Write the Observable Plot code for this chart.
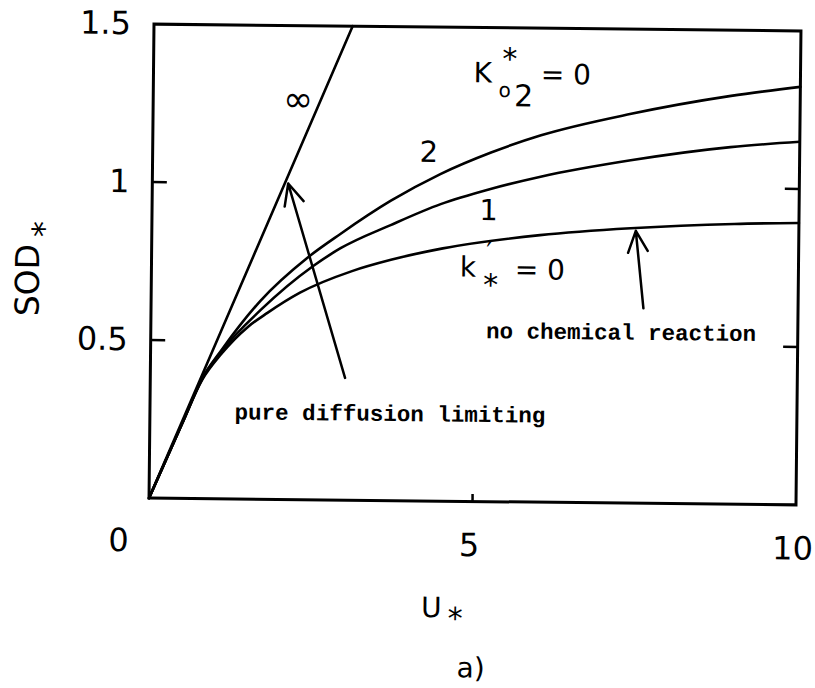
<!DOCTYPE html>
<html>
<head>
<meta charset="utf-8">
<script src="https://cdn.jsdelivr.net/npm/d3@7"></script>
<script src="https://cdn.jsdelivr.net/npm/@observablehq/plot@0.6"></script>
<style>
  body { margin: 0; background: #fff; }
  #chart svg { display: block; }
</style>
</head>
<body>
<div id="chart"></div>
<script>
// Dimensionless sediment oxygen demand SOD* against dimensionless velocity U*
// for several reaction rates k'* (K*o2 = 0), plus the pure-diffusion limit (∞).

// pure diffusion limiting line (k'* = ∞)
const uInf = [0, 3.07];
const sodInf = [0, 1.5];

// k'* = 0 (no chemical reaction)
const u0   = [0, 0.5, 0.8, 1.1, 1.5, 1.8, 2.3, 3.1, 3.7, 4.5, 6.0, 7.4, 9.0, 10];
const sod0 = [0, 0.237, 0.375, 0.46, 0.545, 0.59, 0.655, 0.725, 0.762, 0.80, 0.845, 0.87, 0.887, 0.892];

// k'* = 1
const u1   = [0, 0.5, 0.8, 1.1, 1.7, 2.5, 2.92, 3.69, 4.46, 5.2, 6.0, 7.39, 8.93, 10];
const sod1 = [0, 0.237, 0.378, 0.468, 0.60, 0.74, 0.797, 0.872, 0.94, 0.988, 1.03, 1.085, 1.13, 1.149];

// k'* = 2
const u2   = [0, 0.5, 0.8, 1.1, 1.69, 2.41, 2.92, 3.69, 4.45, 5.23, 6.0, 7.39, 8.93, 10];
const sod2 = [0, 0.237, 0.38, 0.472, 0.628, 0.766, 0.843, 0.949, 1.035, 1.105, 1.161, 1.232, 1.292, 1.323];

const seriesNames = ["0", "1", "2"];

// axis ticks and their labels
const yTickValues = [0.5, 1, 1.5];
const yTickLabels = ["0.5", "1", "1.5"];
const xTickValues = [5, 10];
const xTickLabels = ["5", "10"];
const originLabel = "0";

// curve labels (text, U*, SOD*)
const curveLabelText = ["∞", "2", "1"];
const curveLabelU    = [2.24, 4.27, 5.2];
const curveLabelSod  = [1.265, 1.103, 0.92];

// annotation arrows: tail (u1, sod1) -> head (u2, sod2)
const arrowFromU   = [3.01, 7.61];
const arrowFromSod = [0.387, 0.617];
const arrowToU     = [2.1, 7.48];
const arrowToSod   = [1.0, 0.862];

// annotation texts
const noteText = ["pure diffusion limiting", "no chemical reaction"];
const noteU    = [3.71, 7.27];
const noteSod  = [0.275, 0.54];

// anchors of the composite symbol labels
const kO2Anchor = {u: 5.09, sod: 1.355};
const kAnchor   = {u: 4.89, sod: 0.740};
const yTitleAnchor = {sod: 0.686};
const xTitleAnchor = {u: 4.38};
const panelAnchor  = {u: 5.0};

const curveRows = [[u0, sod0], [u1, sod1], [u2, sod2]].flatMap(([us, ss], s) =>
  us.map((u, i) => ({series: seriesNames[s], u, sod: ss[i]}))
);
const infRows = uInf.map((u, i) => ({u, sod: sodInf[i]}));
const curveLabels = curveLabelText.map((t, i) => ({t, u: curveLabelU[i], sod: curveLabelSod[i]}));
const arrows = arrowFromU.map((u, i) => ({u1: u, s1: arrowFromSod[i], u2: arrowToU[i], s2: arrowToSod[i]}));
const notes = noteText.map((t, i) => ({t, u: noteU[i], sod: noteSod[i]}));

const sans = "DejaVu Sans";
const mono = "Liberation Mono";

const chart = Plot.plot({
  width: 815,
  height: 688,
  marginLeft: 151,
  marginRight: 17,
  marginTop: 27,
  marginBottom: 187,
  x: {domain: [0, 10]},
  y: {domain: [0, 1.5]},
  style: {fontFamily: sans, background: "#fff", color: "#000"},
  marks: [
    // inward ticks
    Plot.axisY([0.5, 1], {anchor: "left", tickSize: -15, strokeWidth: 2.5, fill: "none"}),
    Plot.axisY([0.5, 1], {anchor: "right", tickSize: -15, strokeWidth: 2.5, fill: "none"}),
    Plot.axisX([5], {anchor: "bottom", tickSize: -7, strokeWidth: 2.5, fill: "none"}),
    // tick labels
    Plot.axisY(yTickValues, {
      anchor: "left", tickSize: 0, tickPadding: 23, fontSize: 32,
      tickFormat: d => yTickLabels[yTickValues.indexOf(d)]
    }),
    Plot.axisX(xTickValues, {
      anchor: "bottom", tickSize: 0, tickPadding: 32, fontSize: 32, dx: -3,
      tickFormat: d => xTickLabels[xTickValues.indexOf(d)]
    }),
    Plot.text([originLabel], {x: 0, y: 0, text: d => d, dx: -30, dy: 43, fontSize: 32, lineAnchor: "middle"}),

    Plot.frame({stroke: "#000", strokeWidth: 3}),

    // curves
    Plot.line(infRows, {x: "u", y: "sod", stroke: "#000", strokeWidth: 2.6}),
    Plot.line(curveRows, {x: "u", y: "sod", z: "series", stroke: "#000", strokeWidth: 2.6, curve: "monotone-x"}),

    // curve labels
    Plot.text(curveLabels, {x: "u", y: "sod", text: "t", fontSize: d => d.t === "∞" ? 36 : 29, lineAnchor: "middle"}),

    // K*o2 = 0
    Plot.text(["K"], {x: kO2Anchor.u, y: kO2Anchor.sod, text: d => d, fontSize: 28, lineAnchor: "middle"}),
    Plot.text(["*"], {x: kO2Anchor.u, y: kO2Anchor.sod, text: d => d, fontSize: 30, lineAnchor: "middle", dx: 27, dy: -14}),
    Plot.text(["o"], {x: kO2Anchor.u, y: kO2Anchor.sod, text: d => d, fontSize: 20, lineAnchor: "middle", dx: 22, dy: 17}),
    Plot.text(["2"], {x: kO2Anchor.u, y: kO2Anchor.sod, text: d => d, fontSize: 30, lineAnchor: "middle", dx: 41, dy: 23}),
    Plot.text(["= 0"], {x: kO2Anchor.u, y: kO2Anchor.sod, text: d => d, fontSize: 28, lineAnchor: "middle", textAnchor: "start", dx: 58, dy: 1}),

    // k'* = 0
    Plot.text(["k"], {x: kAnchor.u, y: kAnchor.sod, text: d => d, fontSize: 28, lineAnchor: "middle"}),
    Plot.text(["′"], {x: kAnchor.u, y: kAnchor.sod, text: d => d, fontSize: 24, lineAnchor: "middle", dx: 21, dy: -16}),
    Plot.text(["*"], {x: kAnchor.u, y: kAnchor.sod, text: d => d, fontSize: 30, lineAnchor: "middle", dx: 23, dy: 18}),
    Plot.text(["= 0"], {x: kAnchor.u, y: kAnchor.sod, text: d => d, fontSize: 28, lineAnchor: "middle", textAnchor: "start", dx: 47, dy: 2}),

    // annotations
    Plot.arrow(arrows, {x1: "u1", y1: "s1", x2: "u2", y2: "s2", stroke: "#000", strokeWidth: 2.5, headLength: 14, headAngle: 50}),
    Plot.text(notes, {x: "u", y: "sod", text: "t", fontFamily: mono, fontWeight: "bold", fontSize: 22.5, lineAnchor: "middle"}),

    // axis titles
    Plot.text(["SOD"], {frameAnchor: "left", y: yTitleAnchor.sod, text: d => d, rotate: -90, dx: -123, fontSize: 33, textAnchor: "middle", lineAnchor: "middle"}),
    Plot.text(["*"], {frameAnchor: "left", y: yTitleAnchor.sod, text: d => d, rotate: -90, dx: -107, dy: -51, fontSize: 32, textAnchor: "middle", lineAnchor: "middle"}),
    Plot.text(["U"], {x: xTitleAnchor.u, frameAnchor: "bottom", text: d => d, dy: 107, fontSize: 28, textAnchor: "middle", lineAnchor: "middle"}),
    Plot.text(["*"], {x: xTitleAnchor.u, frameAnchor: "bottom", text: d => d, dx: 24, dy: 118, fontSize: 30, textAnchor: "middle", lineAnchor: "middle"}),
    Plot.text(["a)"], {x: panelAnchor.u, frameAnchor: "bottom", text: d => d, dy: 167, fontSize: 28, textAnchor: "middle", lineAnchor: "middle"})
  ]
});

// the printed figure sits slightly tilted on the page
chart.style.transformOrigin = "474.5px 264px";
chart.style.transform = "rotate(0.6deg)";
document.getElementById("chart").append(chart);
</script>
</body>
</html>
